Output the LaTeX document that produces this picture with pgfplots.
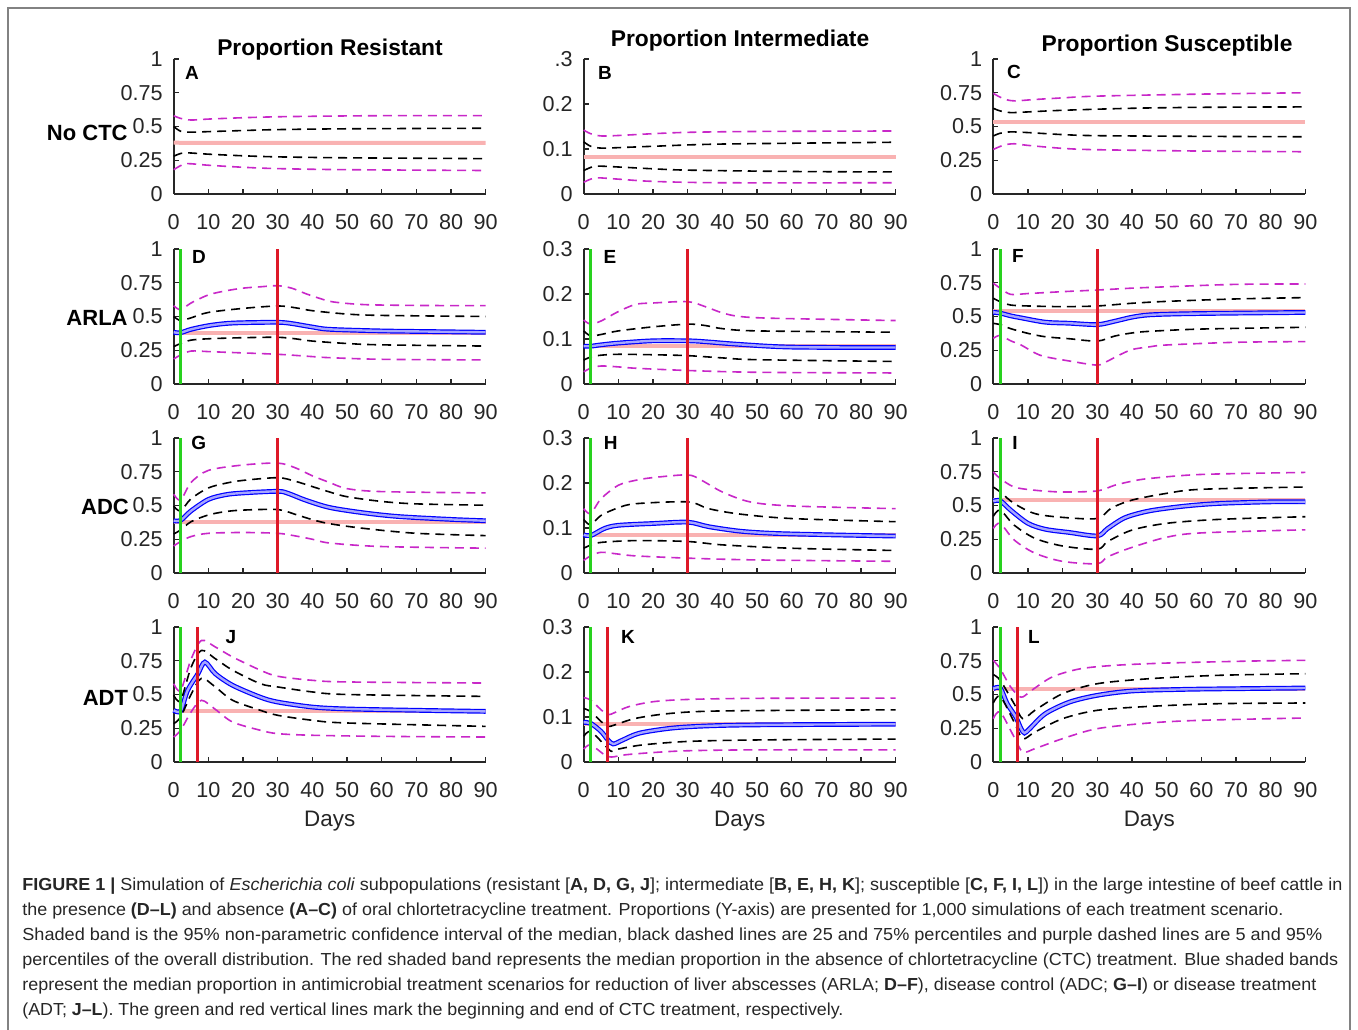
\documentclass[border=0pt]{standalone}
\usepackage{pgfplots}
\pgfplotsset{compat=1.18}
\usepackage{fontspec}
\usepackage{graphicx}
\setmainfont{Liberation Sans}

\definecolor{tickgray}{RGB}{38,38,38}
\definecolor{mag}{RGB}{200,40,200}
\definecolor{pinkband}{RGB}{249,178,178}
\definecolor{cgreen}{RGB}{40,210,30}
\definecolor{cred}{RGB}{222,24,40}
\definecolor{framegray}{RGB}{130,130,130}

\newcommand{\tickfont}{\fontsize{10.8}{12}\selectfont}
\newcommand{\letterfont}{\bfseries\fontsize{9.5}{11}\selectfont}
\newcommand{\capfont}{\fontsize{8.7}{10}\selectfont}

\pgfplotsset{
  subpanel/.style={scale only axis, width=156pt, height=67.5pt,
    xmin=0, xmax=90, ymin=0, anchor=south west, clip=false,
    axis lines*=left, tick align=inside, major tick length=2.5pt,
    xtick={0,10,...,90},
    tick style={tickgray, line width=0.6pt},
    axis line style={tickgray, line width=1pt},
    tick label style={font=\tickfont, text=tickgray},
    /pgf/number format/assume math mode=true,
    xticklabel style={yshift=-6.5pt}, yticklabel style={xshift=-2pt}},
  colR/.style={ymax=1, ytick={0,0.25,0.5,0.75,1}},
  colI/.style={ymax=0.3, ytick={0,0.1,0.2,0.3}},
  pfive/.style={mag, line width=0.8pt, dash pattern=on 4.5pt off 3pt, smooth},
  pquart/.style={black, line width=0.8pt, dash pattern=on 4.5pt off 3pt, smooth},
  ctlband/.style={pinkband, line width=2pt, smooth},
  medband/.style={draw=blue, line width=0.6pt, double=blue!35, double distance=1.2pt, smooth},
  vgreen/.style={cgreen, line width=1.5pt},
  vred/.style={cred, line width=1.5pt},
}

\begin{document}
\begin{tikzpicture}
\path[use as bounding box] (0,0) rectangle (679pt,514.5pt);
\draw[framegray, line width=1pt] (4pt,-2pt) -- (4pt,510.5pt) -- (675pt,510.5pt) -- (675pt,-2pt);

% ---------------- row 1: no CTC
\begin{axis}[subpanel, colR, at={(86.85pt,417.5pt)}]
\addplot[ctlband] coordinates {(0,0.38)(10,0.378)(30,0.378)(60,0.379)(90,0.379)};
\addplot[pfive] coordinates {(0,0.58)(2,0.56)(5,0.548)(10,0.555)(20,0.565)(30,0.572)(45,0.577)(60,0.58)(90,0.58)};
\addplot[pquart] coordinates {(0,0.50)(2,0.465)(5,0.458)(10,0.462)(20,0.47)(30,0.477)(50,0.483)(90,0.487)};
\addplot[pquart] coordinates {(0,0.28)(2,0.30)(4,0.305)(10,0.295)(20,0.283)(30,0.275)(50,0.268)(90,0.262)};
\addplot[pfive] coordinates {(0,0.18)(2,0.21)(4,0.225)(10,0.213)(20,0.198)(30,0.188)(50,0.18)(90,0.174)};
\end{axis}

\begin{axis}[subpanel, colI, yticklabels={0,0.1,0.2,.3}, at={(291.85pt,417.5pt)}]
\addplot[ctlband] coordinates {(0,0.083)(90,0.083)};
\addplot[pfive] coordinates {(0,0.142)(2,0.134)(5,0.129)(10,0.13)(20,0.134)(30,0.137)(50,0.139)(90,0.14)};
\addplot[pquart] coordinates {(0,0.116)(2,0.106)(5,0.102)(10,0.103)(20,0.106)(40,0.111)(90,0.115)};
\addplot[pquart] coordinates {(0,0.052)(2,0.059)(4,0.062)(10,0.06)(20,0.056)(30,0.053)(60,0.05)(90,0.049)};
\addplot[pfive] coordinates {(0,0.026)(2,0.033)(4,0.036)(10,0.033)(20,0.028)(40,0.025)(90,0.025)};
\end{axis}

\begin{axis}[subpanel, colR, at={(496.65pt,417.5pt)}]
\addplot[ctlband] coordinates {(0,0.533)(90,0.533)};
\addplot[pfive] coordinates {(0,0.745)(3,0.705)(6,0.69)(12,0.70)(20,0.712)(30,0.725)(60,0.74)(90,0.75)};
\addplot[pquart] coordinates {(0,0.635)(2,0.615)(5,0.603)(10,0.608)(20,0.62)(40,0.635)(60,0.642)(90,0.645)};
\addplot[pquart] coordinates {(0,0.43)(2,0.45)(5,0.46)(10,0.455)(20,0.44)(30,0.432)(60,0.427)(90,0.424)};
\addplot[pfive] coordinates {(0,0.33)(3,0.362)(6,0.372)(10,0.36)(20,0.338)(30,0.328)(60,0.318)(90,0.313)};
\end{axis}

% ---------------- row 2: ARLA
\begin{axis}[subpanel, colR, at={(86.85pt,322.5pt)}]
\addplot[ctlband] coordinates {(0,0.38)(90,0.38)};
\addplot[medband] coordinates {(0,0.383)(2,0.38)(5,0.405)(10,0.432)(15,0.448)(20,0.454)(30,0.457)(34,0.448)(40,0.422)(45,0.405)(60,0.393)(75,0.388)(90,0.383)};
\addplot[pfive] coordinates {(0,0.58)(2,0.55)(5,0.60)(10,0.66)(15,0.69)(20,0.71)(25,0.72)(30,0.728)(34,0.71)(38,0.67)(42,0.635)(46,0.608)(55,0.588)(70,0.582)(90,0.58)};
\addplot[pquart] coordinates {(0,0.50)(2,0.47)(5,0.49)(10,0.53)(20,0.56)(30,0.578)(35,0.565)(40,0.543)(50,0.518)(60,0.508)(90,0.50)};
\addplot[pquart] coordinates {(0,0.277)(2,0.30)(5,0.325)(10,0.335)(20,0.343)(30,0.346)(35,0.335)(40,0.318)(50,0.30)(60,0.29)(90,0.281)};
\addplot[pfive] coordinates {(0,0.185)(2,0.215)(5,0.244)(10,0.24)(15,0.235)(30,0.22)(40,0.203)(45,0.195)(60,0.183)(90,0.178)};
\addplot[vgreen] coordinates {(2,0)(2,1)};
\addplot[vred] coordinates {(30,0)(30,1)};
\end{axis}

\begin{axis}[subpanel, colI, at={(291.85pt,322.5pt)}]
\addplot[ctlband] coordinates {(0,0.084)(90,0.084)};
\addplot[medband] coordinates {(0,0.084)(2,0.084)(5,0.087)(10,0.091)(20,0.096)(30,0.096)(35,0.094)(45,0.088)(60,0.082)(90,0.081)};
\addplot[pfive] coordinates {(0,0.142)(2,0.133)(5,0.14)(10,0.161)(15,0.177)(20,0.18)(30,0.183)(35,0.172)(40,0.158)(45,0.15)(55,0.146)(90,0.141)};
\addplot[pquart] coordinates {(0,0.118)(2,0.107)(5,0.11)(10,0.118)(20,0.127)(30,0.133)(35,0.13)(40,0.123)(50,0.118)(90,0.115)};
\addplot[pquart] coordinates {(0,0.053)(2,0.06)(5,0.064)(10,0.066)(20,0.065)(30,0.063)(40,0.058)(50,0.054)(90,0.05)};
\addplot[pfive] coordinates {(0,0.027)(2,0.035)(5,0.04)(10,0.038)(15,0.035)(30,0.03)(50,0.026)(90,0.0245)};
\addplot[vgreen] coordinates {(2,0)(2,0.3)};
\addplot[vred] coordinates {(30,0)(30,0.3)};
\end{axis}

\begin{axis}[subpanel, colR, at={(496.65pt,322.5pt)}]
\addplot[ctlband] coordinates {(0,0.538)(90,0.538)};
\addplot[medband] coordinates {(0,0.531)(2,0.525)(5,0.505)(8,0.49)(15,0.458)(22,0.45)(30,0.44)(35,0.465)(40,0.495)(45,0.512)(55,0.52)(70,0.525)(90,0.53)};
\addplot[pfive] coordinates {(0,0.746)(2,0.71)(5,0.664)(10,0.67)(20,0.684)(30,0.696)(40,0.71)(50,0.72)(70,0.738)(90,0.741)};
\addplot[pquart] coordinates {(0,0.635)(2,0.61)(5,0.585)(10,0.578)(20,0.573)(30,0.578)(40,0.598)(50,0.612)(70,0.63)(90,0.64)};
\addplot[pquart] coordinates {(0,0.449)(2,0.44)(5,0.41)(10,0.375)(15,0.35)(22,0.335)(30,0.318)(35,0.355)(40,0.378)(45,0.39)(60,0.407)(90,0.42)};
\addplot[pfive] coordinates {(0,0.338)(2,0.36)(5,0.32)(8,0.289)(12,0.23)(15,0.202)(22,0.17)(30,0.14)(33,0.17)(36,0.21)(40,0.255)(45,0.275)(50,0.289)(70,0.309)(90,0.314)};
\addplot[vgreen] coordinates {(2,0)(2,1)};
\addplot[vred] coordinates {(30,0)(30,1)};
\end{axis}

% ---------------- row 3: ADC
\begin{axis}[subpanel, colR, at={(86.85pt,228pt)}]
\addplot[ctlband] coordinates {(0,0.38)(90,0.38)};
\addplot[medband] coordinates {(0,0.387)(2,0.39)(5,0.46)(10,0.545)(15,0.58)(20,0.593)(30,0.605)(33,0.59)(38,0.54)(45,0.485)(55,0.445)(65,0.418)(80,0.397)(90,0.387)};
\addplot[pfive] coordinates {(0,0.583)(2,0.54)(5,0.67)(10,0.76)(20,0.80)(30,0.814)(35,0.78)(40,0.72)(45,0.67)(50,0.625)(60,0.603)(90,0.593)};
\addplot[pquart] coordinates {(0,0.495)(2,0.46)(5,0.55)(10,0.63)(15,0.665)(20,0.686)(30,0.706)(35,0.68)(40,0.64)(45,0.60)(50,0.565)(60,0.53)(70,0.512)(90,0.502)};
\addplot[pquart] coordinates {(0,0.289)(2,0.319)(5,0.38)(10,0.43)(15,0.455)(20,0.466)(30,0.47)(35,0.435)(40,0.395)(45,0.365)(55,0.33)(70,0.294)(90,0.277)};
\addplot[pfive] coordinates {(0,0.20)(2,0.233)(5,0.27)(10,0.294)(20,0.30)(30,0.294)(35,0.275)(40,0.25)(45,0.222)(60,0.196)(90,0.184)};
\addplot[vgreen] coordinates {(2,0)(2,1)};
\addplot[vred] coordinates {(30,0)(30,1)};
\end{axis}

\begin{axis}[subpanel, colI, at={(291.85pt,228pt)}]
\addplot[ctlband] coordinates {(0,0.085)(90,0.085)};
\addplot[medband] coordinates {(0,0.085)(2,0.083)(6,0.099)(10,0.106)(20,0.11)(30,0.113)(36,0.103)(45,0.093)(55,0.088)(70,0.085)(90,0.082)};
\addplot[pfive] coordinates {(0,0.143)(2,0.132)(5,0.165)(10,0.195)(15,0.206)(20,0.212)(30,0.218)(34,0.206)(40,0.18)(48,0.158)(60,0.149)(90,0.143)};
\addplot[pquart] coordinates {(0,0.119)(2,0.107)(5,0.128)(10,0.145)(15,0.154)(30,0.158)(36,0.143)(45,0.131)(60,0.121)(90,0.114)};
\addplot[pquart] coordinates {(0,0.055)(2,0.062)(5,0.068)(15,0.072)(30,0.07)(40,0.0625)(60,0.055)(90,0.05)};
\addplot[pfive] coordinates {(0,0.028)(2,0.038)(5,0.046)(10,0.042)(15,0.038)(30,0.033)(50,0.029)(90,0.026)};
\addplot[vgreen] coordinates {(2,0)(2,0.3)};
\addplot[vred] coordinates {(30,0)(30,0.3)};
\end{axis}

\begin{axis}[subpanel, colR, at={(496.65pt,228pt)}]
\addplot[ctlband] coordinates {(0,0.54)(90,0.54)};
\addplot[medband] coordinates {(0,0.532)(2,0.535)(5,0.466)(10,0.368)(15,0.324)(22,0.30)(30,0.275)(33,0.33)(38,0.41)(45,0.46)(55,0.495)(65,0.515)(80,0.527)(90,0.527)};
\addplot[pfive] coordinates {(0,0.748)(2,0.70)(6,0.637)(12,0.613)(20,0.60)(30,0.608)(35,0.65)(40,0.68)(45,0.70)(60,0.73)(90,0.745)};
\addplot[pquart] coordinates {(0,0.637)(2,0.60)(6,0.515)(12,0.44)(20,0.412)(30,0.404)(34,0.48)(40,0.54)(50,0.59)(60,0.62)(90,0.637)};
\addplot[pquart] coordinates {(0,0.42)(2,0.466)(6,0.355)(12,0.257)(20,0.20)(30,0.176)(33,0.233)(40,0.318)(50,0.368)(65,0.397)(90,0.417)};
\addplot[pfive] coordinates {(0,0.33)(2,0.368)(6,0.245)(12,0.147)(20,0.086)(30,0.069)(33,0.12)(40,0.19)(50,0.265)(60,0.297)(90,0.32)};
\addplot[vgreen] coordinates {(2,0)(2,1)};
\addplot[vred] coordinates {(30,0)(30,1)};
\end{axis}

% ---------------- row 4: ADT
\begin{axis}[subpanel, colR, at={(86.85pt,133.5pt)}]
\addplot[ctlband] coordinates {(0,0.378)(90,0.378)};
\addplot[medband] coordinates {(0,0.383)(2,0.378)(4,0.53)(7,0.654)(9,0.74)(12,0.654)(17,0.568)(25,0.48)(30,0.444)(40,0.407)(50,0.393)(70,0.383)(90,0.375)};
\addplot[pfive] coordinates {(0,0.58)(2,0.53)(5,0.76)(8,0.90)(12,0.852)(17,0.778)(25,0.68)(30,0.635)(40,0.605)(50,0.593)(90,0.585)};
\addplot[pquart] coordinates {(0,0.494)(2,0.455)(5,0.70)(8,0.827)(12,0.765)(17,0.68)(25,0.58)(30,0.556)(40,0.519)(50,0.50)(90,0.486)};
\addplot[pquart] coordinates {(0,0.284)(2,0.333)(5,0.50)(8,0.62)(12,0.556)(17,0.457)(25,0.383)(30,0.346)(40,0.309)(50,0.289)(90,0.264)};
\addplot[pfive] coordinates {(0,0.185)(2,0.235)(5,0.37)(8,0.457)(12,0.39)(17,0.296)(25,0.235)(30,0.21)(40,0.198)(60,0.19)(90,0.185)};
\addplot[vgreen] coordinates {(2,0)(2,1)};
\addplot[vred] coordinates {(7,0)(7,1)};
\end{axis}

\begin{axis}[subpanel, colI, at={(291.85pt,133.5pt)}]
\addplot[ctlband] coordinates {(0,0.085)(90,0.085)};
\addplot[medband] coordinates {(0,0.088)(2,0.086)(5,0.068)(7,0.049)(8.5,0.04)(11,0.048)(16,0.064)(25,0.075)(35,0.08)(50,0.0825)(90,0.084)};
\addplot[pfive] coordinates {(0,0.143)(2,0.138)(5,0.116)(7,0.105)(9,0.11)(13,0.123)(20,0.134)(30,0.139)(50,0.1415)(90,0.142)};
\addplot[pquart] coordinates {(0,0.119)(2,0.112)(5,0.09)(7,0.079)(9,0.0825)(15,0.097)(25,0.108)(40,0.1135)(90,0.116)};
\addplot[pquart] coordinates {(0,0.057)(2,0.068)(6,0.038)(8,0.0236)(10,0.0287)(17,0.038)(30,0.0457)(50,0.049)(90,0.051)};
\addplot[pfive] coordinates {(0,0.0287)(2,0.038)(6,0.016)(8,0.011)(12,0.016)(20,0.021)(30,0.025)(50,0.027)(90,0.027)};
\addplot[vgreen] coordinates {(2,0)(2,0.3)};
\addplot[vred] coordinates {(7,0)(7,0.3)};
\end{axis}

\begin{axis}[subpanel, colR, at={(496.65pt,133.5pt)}]
\addplot[ctlband] coordinates {(0,0.543)(90,0.543)};
\addplot[medband] coordinates {(0,0.543)(2,0.548)(4,0.432)(6.5,0.333)(8,0.247)(9,0.215)(10.5,0.247)(15,0.358)(22,0.444)(30,0.494)(40,0.526)(55,0.538)(70,0.543)(90,0.548)};
\addplot[pfive] coordinates {(0,0.753)(2,0.69)(5,0.556)(8,0.48)(11,0.53)(17,0.63)(25,0.69)(35,0.716)(50,0.733)(75,0.748)(90,0.753)};
\addplot[pquart] coordinates {(0,0.647)(2,0.605)(6,0.432)(8.5,0.321)(12,0.383)(20,0.506)(30,0.58)(45,0.617)(65,0.642)(90,0.654)};
\addplot[pquart] coordinates {(0,0.437)(2,0.486)(6,0.296)(8.5,0.173)(12,0.222)(20,0.321)(30,0.383)(45,0.412)(65,0.432)(90,0.437)};
\addplot[pfive] coordinates {(0,0.321)(2,0.37)(6,0.185)(8.5,0.074)(12,0.099)(20,0.173)(30,0.247)(45,0.289)(60,0.309)(90,0.326)};
\addplot[vgreen] coordinates {(2,0)(2,1)};
\addplot[vred] coordinates {(7,0)(7,1)};
\end{axis}

% ---------------- titles and labels
\begin{scope}[every node/.style={inner sep=0pt, font=\bfseries\fontsize{11.4}{13}\selectfont}]
\node[anchor=base] at (165pt,486.9pt) {Proportion Resistant};
\node[anchor=base] at (370pt,491.2pt) {Proportion Intermediate};
\node[anchor=base] at (583.5pt,488.7pt) {Proportion Susceptible};
\end{scope}
\begin{scope}[every node/.style={inner sep=0pt, anchor=base east, font=\bfseries\fontsize{11}{13}\selectfont}]
\node at (64pt,444pt) {No CTC};
\node at (64pt,351.5pt) {ARLA};
\node at (64.6pt,257.2pt) {ADC};
\node at (64.2pt,161.8pt) {ADT};
\end{scope}
\begin{scope}[every node/.style={inner sep=0pt, anchor=base, font=\letterfont}]
\node at (96pt,474.6pt) {A};
\node at (302.5pt,474.6pt) {B};
\node at (507pt,475.2pt) {C};
\node at (99.5pt,382.8pt) {D};
\node at (305pt,382.6pt) {E};
\node at (509pt,383.1pt) {F};
\node at (99.4pt,289.9pt) {G};
\node at (305.3pt,289.5pt) {H};
\node at (507.5pt,289.5pt) {I};
\node at (115.5pt,192.8pt) {J};
\node at (314pt,192.8pt) {K};
\node at (517pt,192.8pt) {L};
\end{scope}
\begin{scope}[every node/.style={inner sep=0pt, anchor=base, font=\fontsize{11.2}{13}\selectfont, text=tickgray}]
\node at (164.85pt,101.5pt) {Days};
\node at (369.85pt,101.5pt) {Days};
\node at (574.65pt,101.5pt) {Days};
\end{scope}

% ---------------- caption
\begin{scope}[every node/.style={inner sep=0pt, anchor=base west, font=\capfont, text=black!85}]
\node at (11pt,69.5pt) {\resizebox{660pt}{\height}{\textbf{FIGURE 1 |} Simulation of \textit{Escherichia coli} subpopulations (resistant [\textbf{A, D, G, J}]; intermediate [\textbf{B, E, H, K}]; susceptible [\textbf{C, F, I, L}]) in the large intestine of beef cattle in}};
\node at (11pt,57pt) {\resizebox{630.5pt}{\height}{the presence \textbf{(D–L)} and absence \textbf{(A–C)} of oral chlortetracycline treatment. Proportions (Y-axis) are presented for 1,000 simulations of each treatment scenario.}};
\node at (11pt,44.5pt) {\resizebox{650pt}{\height}{Shaded band is the 95\% non-parametric confidence interval of the median, black dashed lines are 25 and 75\% percentiles and purple dashed lines are 5 and 95\%}};
\node at (11pt,32pt) {\resizebox{658pt}{\height}{percentiles of the overall distribution. The red shaded band represents the median proportion in the absence of chlortetracycline (CTC) treatment. Blue shaded bands}};
\node at (11pt,19.5pt) {\resizebox{647pt}{\height}{represent the median proportion in antimicrobial treatment scenarios for reduction of liver abscesses (ARLA; \textbf{D–F}), disease control (ADC; \textbf{G–I}) or disease treatment}};
\node at (11pt,7pt) {\resizebox{410.5pt}{\height}{(ADT; \textbf{J–L}). The green and red vertical lines mark the beginning and end of CTC treatment, respectively.}};
\end{scope}
\end{tikzpicture}
\end{document}
